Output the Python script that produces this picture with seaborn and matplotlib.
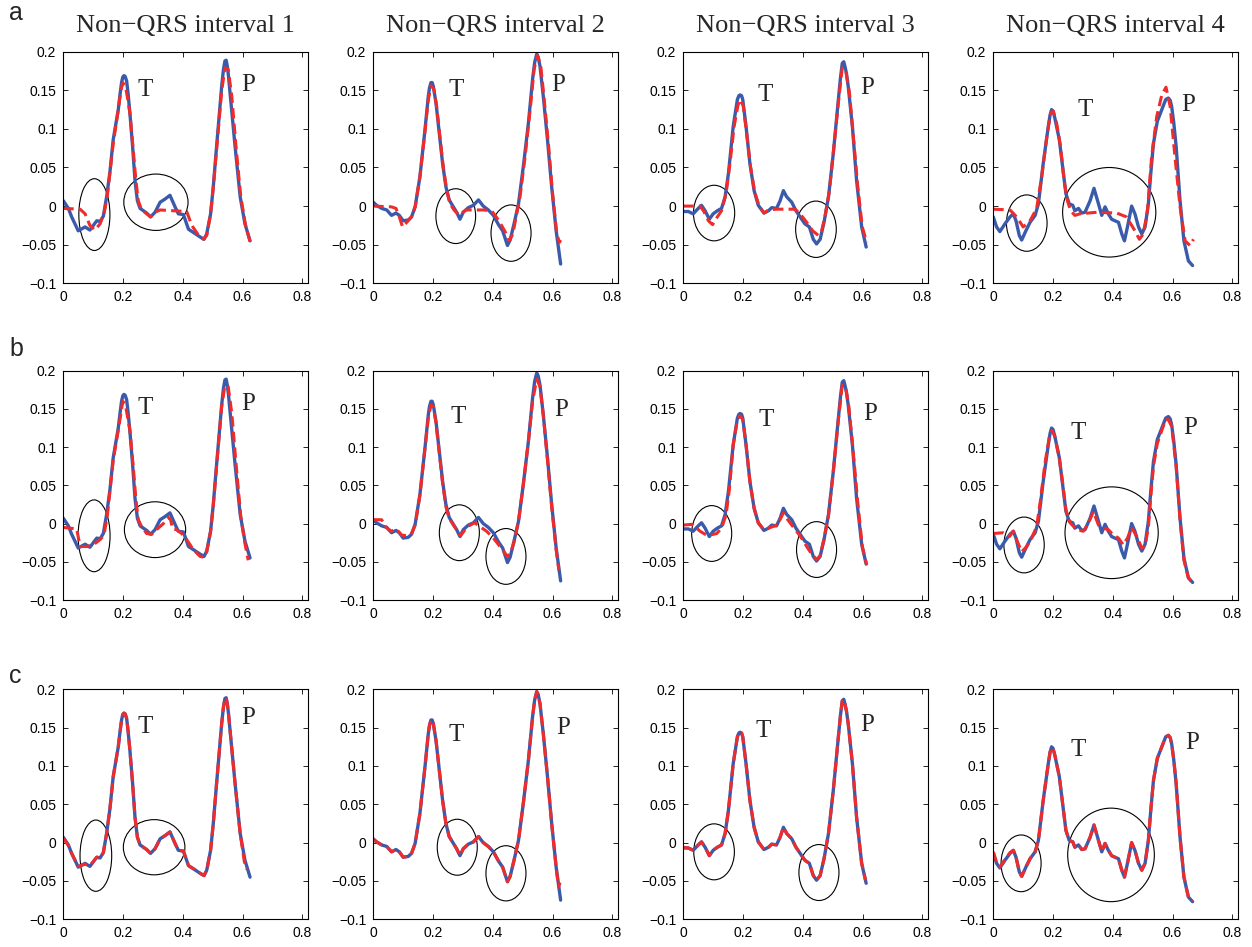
import numpy as np
import matplotlib
matplotlib.use("Agg")
import matplotlib.pyplot as plt
import seaborn as sns
from matplotlib.patches import Ellipse
from matplotlib.ticker import FixedLocator, FixedFormatter

# ---------------- data ----------------
titles = ["Non\u2212QRS interval 1", "Non\u2212QRS interval 2",
          "Non\u2212QRS interval 3", "Non\u2212QRS interval 4"]
row_labels = ["a", "b", "c"]
xtick_vals = [0, 0.2, 0.4, 0.6, 0.8]
xtick_text = ["0", "0.2", "0.4", "0.6", "0.8"]
ytick_vals = [-0.1, -0.05, 0, 0.05, 0.1, 0.15, 0.2]
ytick_text = ["\u22120.1", "\u22120.05", "0", "0.05", "0.1", "0.15", "0.2"]

# original signal (blue), one per interval
b1_x = [0.000, 0.017, 0.028, 0.050, 0.073, 0.089, 0.112, 0.123, 0.134, 0.145, 0.156, 0.167, 0.184, 0.190, 0.195,
        0.199, 0.203, 0.207, 0.212, 0.217, 0.223, 0.232, 0.240, 0.248, 0.257, 0.279, 0.292, 0.307, 0.324, 0.340,
        0.357, 0.374, 0.385, 0.402, 0.419, 0.435, 0.458, 0.471, 0.480, 0.493, 0.502, 0.513, 0.530, 0.536, 0.541,
        0.545, 0.549, 0.553, 0.558, 0.575, 0.592, 0.608, 0.625]
b1_y = [0.007, -0.003, -0.014, -0.032, -0.027, -0.031, -0.019, -0.020, -0.013, 0.012, 0.044, 0.086, 0.125, 0.145, 0.160,
        0.167, 0.169, 0.168, 0.162, 0.145, 0.120, 0.077, 0.033, 0.007, -0.003, -0.009, -0.014, -0.008, 0.005, 0.009,
        0.014, -0.001, -0.010, -0.011, -0.030, -0.034, -0.040, -0.043, -0.036, -0.010, 0.025, 0.077, 0.155, 0.177, 0.188,
        0.189, 0.181, 0.168, 0.147, 0.077, 0.012, -0.023, -0.045]

b2_x = [0.000, 0.011, 0.028, 0.045, 0.061, 0.076, 0.087, 0.100, 0.117, 0.128, 0.140, 0.156, 0.173, 0.184, 0.188,
        0.193, 0.197, 0.201, 0.210, 0.221, 0.232, 0.243, 0.254, 0.268, 0.279, 0.290, 0.301, 0.318, 0.335, 0.352,
        0.368, 0.385, 0.402, 0.419, 0.433, 0.449, 0.458, 0.471, 0.486, 0.502, 0.519, 0.533, 0.540, 0.547, 0.552,
        0.558, 0.569, 0.583, 0.597, 0.612, 0.627]
b2_y = [0.005, 0.001, -0.003, -0.005, -0.012, -0.009, -0.012, -0.019, -0.018, -0.014, -0.001, 0.038, 0.099, 0.142, 0.153,
        0.160, 0.160, 0.155, 0.133, 0.094, 0.055, 0.025, 0.008, -0.001, -0.008, -0.017, -0.008, -0.002, 0.001, 0.008,
        0.000, -0.005, -0.012, -0.024, -0.032, -0.051, -0.044, -0.023, 0.003, 0.051, 0.107, 0.164, 0.186, 0.197, 0.193,
        0.181, 0.142, 0.086, 0.025, -0.032, -0.075]

b3_x = [0.000, 0.017, 0.033, 0.050, 0.061, 0.073, 0.087, 0.100, 0.114, 0.128, 0.140, 0.151, 0.167, 0.181, 0.186,
        0.190, 0.195, 0.199, 0.210, 0.223, 0.237, 0.251, 0.270, 0.285, 0.296, 0.312, 0.324, 0.335, 0.346, 0.363,
        0.377, 0.391, 0.407, 0.422, 0.435, 0.446, 0.458, 0.471, 0.486, 0.502, 0.519, 0.526, 0.532, 0.537, 0.541,
        0.546, 0.552, 0.566, 0.580, 0.597, 0.612]
b3_y = [-0.007, -0.007, -0.010, -0.003, 0.001, -0.006, -0.017, -0.010, -0.006, -0.003, 0.012, 0.042, 0.103, 0.138, 0.143,
        0.144, 0.143, 0.138, 0.103, 0.055, 0.020, 0.001, -0.009, -0.006, -0.002, -0.003, 0.007, 0.020, 0.012, 0.005,
        -0.006, -0.014, -0.023, -0.027, -0.043, -0.049, -0.043, -0.021, 0.012, 0.068, 0.138, 0.166, 0.185, 0.187, 0.181,
        0.172, 0.155, 0.103, 0.033, -0.027, -0.053]

b4_x = [0.000, 0.011, 0.022, 0.039, 0.056, 0.067, 0.076, 0.087, 0.095, 0.109, 0.123, 0.140, 0.151, 0.167, 0.184,
        0.190, 0.195, 0.200, 0.206, 0.221, 0.232, 0.243, 0.254, 0.266, 0.273, 0.285, 0.296, 0.307, 0.324, 0.337,
        0.352, 0.363, 0.374, 0.385, 0.396, 0.407, 0.419, 0.430, 0.439, 0.449, 0.463, 0.474, 0.486, 0.497, 0.508,
        0.519, 0.527, 0.536, 0.549, 0.564, 0.577, 0.586, 0.592, 0.597, 0.604, 0.612, 0.625, 0.638, 0.653, 0.667]
b4_y = [-0.014, -0.027, -0.033, -0.023, -0.014, -0.010, -0.019, -0.038, -0.044, -0.032, -0.021, -0.012, 0.003, 0.055, 0.103,
        0.118, 0.125, 0.123, 0.114, 0.086, 0.051, 0.016, 0.003, 0.001, -0.006, -0.003, -0.009, -0.008, 0.007, 0.023,
        0.003, -0.012, -0.001, -0.010, -0.017, -0.019, -0.021, -0.036, -0.045, -0.027, 0.000, -0.010, -0.027, -0.036, -0.027,
        0.003, 0.042, 0.081, 0.110, 0.125, 0.138, 0.140, 0.137, 0.129, 0.108, 0.077, 0.007, -0.045, -0.071, -0.077]

# reconstructions (red dashed), row a
ra1_x = [0.000, 0.056, 0.073, 0.089, 0.106, 0.123, 0.136, 0.147, 0.167, 0.184, 0.192, 0.199, 0.208, 0.215, 0.223,
         0.234, 0.243, 0.251, 0.262, 0.279, 0.292, 0.307, 0.324, 0.368, 0.413, 0.430, 0.453, 0.469, 0.480, 0.493,
         0.502, 0.513, 0.530, 0.541, 0.552, 0.564, 0.578, 0.594, 0.610, 0.625]
ra1_y = [-0.003, -0.004, -0.010, -0.025, -0.031, -0.023, -0.010, 0.012, 0.081, 0.125, 0.148, 0.160, 0.155, 0.140, 0.120,
         0.073, 0.033, 0.007, -0.005, -0.010, -0.014, -0.008, -0.005, -0.006, -0.007, -0.025, -0.038, -0.043, -0.038, -0.010,
         0.025, 0.073, 0.149, 0.179, 0.177, 0.142, 0.077, 0.012, -0.025, -0.046]

ra2_x = [0.000, 0.061, 0.076, 0.087, 0.098, 0.112, 0.128, 0.140, 0.156, 0.173, 0.184, 0.194, 0.203, 0.212, 0.223,
         0.234, 0.246, 0.257, 0.270, 0.285, 0.296, 0.310, 0.335, 0.368, 0.396, 0.419, 0.441, 0.455, 0.467, 0.478,
         0.491, 0.508, 0.525, 0.538, 0.549, 0.560, 0.571, 0.586, 0.600, 0.614, 0.623, 0.627]
ra2_y = [0.000, -0.001, -0.003, -0.014, -0.027, -0.021, -0.014, -0.001, 0.038, 0.097, 0.138, 0.156, 0.151, 0.129, 0.090,
         0.051, 0.020, 0.003, -0.005, -0.011, -0.009, -0.005, -0.005, -0.005, -0.006, -0.018, -0.033, -0.045, -0.036, -0.014,
         0.012, 0.064, 0.125, 0.177, 0.195, 0.183, 0.142, 0.081, 0.016, -0.036, -0.047, -0.044]

ra3_x = [0.000, 0.056, 0.069, 0.084, 0.098, 0.114, 0.128, 0.143, 0.156, 0.170, 0.183, 0.192, 0.201, 0.212, 0.225,
         0.239, 0.254, 0.270, 0.285, 0.312, 0.346, 0.374, 0.391, 0.413, 0.433, 0.452, 0.463, 0.474, 0.489, 0.504,
         0.520, 0.532, 0.543, 0.556, 0.569, 0.584, 0.599, 0.614]
ra3_y = [0.000, 0.000, -0.007, -0.019, -0.024, -0.014, -0.006, 0.016, 0.055, 0.103, 0.131, 0.138, 0.129, 0.094, 0.051,
         0.018, 0.000, -0.009, -0.005, -0.004, -0.004, -0.004, -0.010, -0.021, -0.032, -0.038, -0.032, -0.014, 0.020, 0.077,
         0.138, 0.179, 0.177, 0.147, 0.090, 0.025, -0.027, -0.047]

ra4_x = [0.000, 0.056, 0.078, 0.100, 0.123, 0.145, 0.162, 0.179, 0.192, 0.201, 0.212, 0.225, 0.237, 0.248, 0.259,
         0.273, 0.290, 0.346, 0.413, 0.446, 0.474, 0.489, 0.502, 0.516, 0.530, 0.547, 0.564, 0.578, 0.592, 0.608,
         0.625, 0.642, 0.658, 0.670]
ra4_y = [-0.004, -0.005, -0.014, -0.027, -0.019, -0.003, 0.038, 0.090, 0.121, 0.123, 0.107, 0.077, 0.033, 0.007, -0.006,
         -0.012, -0.010, -0.008, -0.009, -0.014, -0.032, -0.043, -0.036, -0.006, 0.064, 0.116, 0.144, 0.154, 0.129, 0.064,
         -0.001, -0.045, -0.051, -0.043]

# row b
rb1_x = [0.000, 0.045, 0.056, 0.078, 0.100, 0.123, 0.136, 0.147, 0.167, 0.184, 0.199, 0.208, 0.223, 0.234, 0.243,
         0.251, 0.262, 0.279, 0.296, 0.312, 0.335, 0.352, 0.359, 0.366, 0.379, 0.396, 0.413, 0.435, 0.458, 0.471,
         0.480, 0.493, 0.502, 0.513, 0.530, 0.541, 0.552, 0.564, 0.578, 0.594, 0.608, 0.619]
rb1_y = [-0.005, -0.007, -0.030, -0.030, -0.028, -0.021, -0.015, 0.009, 0.083, 0.122, 0.160, 0.155, 0.122, 0.075, 0.031,
         0.005, -0.004, -0.013, -0.014, -0.008, 0.000, 0.008, 0.005, -0.007, -0.008, -0.013, -0.021, -0.034, -0.043, -0.044,
         -0.037, -0.010, 0.024, 0.075, 0.153, 0.181, 0.179, 0.144, 0.079, 0.009, -0.026, -0.048]

rb2_x = [0.000, 0.028, 0.045, 0.061, 0.076, 0.095, 0.112, 0.128, 0.140, 0.156, 0.173, 0.184, 0.193, 0.201, 0.210,
         0.221, 0.232, 0.243, 0.254, 0.268, 0.279, 0.292, 0.307, 0.324, 0.340, 0.357, 0.379, 0.402, 0.424, 0.449,
         0.460, 0.471, 0.486, 0.502, 0.519, 0.533, 0.547, 0.558, 0.569, 0.583, 0.597, 0.612, 0.621]
rb2_y = [0.005, 0.005, -0.006, -0.010, -0.007, -0.015, -0.016, -0.013, -0.002, 0.037, 0.099, 0.138, 0.155, 0.153, 0.131,
         0.092, 0.053, 0.022, 0.007, -0.002, -0.008, -0.016, -0.008, -0.002, 0.001, -0.004, -0.010, -0.019, -0.030, -0.043,
         -0.038, -0.024, 0.003, 0.051, 0.107, 0.160, 0.189, 0.179, 0.142, 0.083, 0.022, -0.034, -0.061]

rb3_x = [0.000, 0.028, 0.042, 0.056, 0.073, 0.089, 0.112, 0.128, 0.143, 0.154, 0.167, 0.181, 0.190, 0.199, 0.210,
         0.223, 0.237, 0.251, 0.270, 0.285, 0.299, 0.315, 0.326, 0.335, 0.346, 0.363, 0.379, 0.396, 0.413, 0.430,
         0.446, 0.458, 0.471, 0.486, 0.502, 0.519, 0.532, 0.543, 0.554, 0.567, 0.583, 0.599, 0.614]
rb3_y = [-0.002, -0.001, -0.005, -0.010, -0.014, -0.015, -0.013, -0.006, 0.011, 0.044, 0.103, 0.136, 0.141, 0.136, 0.103,
         0.055, 0.020, 0.001, -0.008, -0.006, -0.004, -0.002, 0.007, 0.014, 0.007, -0.002, -0.010, -0.019, -0.030, -0.040,
         -0.047, -0.042, -0.020, 0.011, 0.068, 0.136, 0.181, 0.179, 0.153, 0.101, 0.031, -0.030, -0.054]

rb4_x = [0.000, 0.033, 0.054, 0.067, 0.078, 0.095, 0.112, 0.128, 0.145, 0.158, 0.173, 0.188, 0.196, 0.206, 0.221,
         0.232, 0.243, 0.257, 0.279, 0.301, 0.318, 0.335, 0.352, 0.368, 0.385, 0.402, 0.419, 0.435, 0.449, 0.463,
         0.480, 0.497, 0.508, 0.519, 0.527, 0.536, 0.549, 0.564, 0.577, 0.586, 0.597, 0.612, 0.625, 0.638, 0.653, 0.667]
rb4_y = [-0.013, -0.012, -0.017, -0.010, -0.021, -0.037, -0.030, -0.019, -0.004, 0.031, 0.079, 0.114, 0.122, 0.114, 0.085,
         0.053, 0.018, 0.001, -0.008, -0.010, 0.000, 0.016, -0.002, -0.006, -0.008, -0.015, -0.019, -0.028, -0.019, -0.005,
         -0.017, -0.032, -0.030, -0.004, 0.035, 0.075, 0.105, 0.122, 0.136, 0.136, 0.127, 0.075, 0.005, -0.048, -0.071, -0.078]

# row c (reconstruction almost on top of the original)
rc1_x = [0.000, 0.017, 0.028, 0.050, 0.073, 0.089, 0.112, 0.123, 0.134, 0.145, 0.156, 0.167, 0.184, 0.190, 0.195,
         0.199, 0.203, 0.207, 0.212, 0.217, 0.223, 0.232, 0.240, 0.248, 0.257, 0.279, 0.292, 0.307, 0.324, 0.340,
         0.357, 0.374, 0.385, 0.402, 0.419, 0.435, 0.458, 0.471, 0.480, 0.493, 0.502, 0.513, 0.530, 0.536, 0.541,
         0.545, 0.549, 0.553, 0.558, 0.575, 0.592, 0.606, 0.615]
rc1_y = [0.006, -0.004, -0.014, -0.031, -0.028, -0.030, -0.019, -0.020, -0.013, 0.012, 0.044, 0.086, 0.125, 0.145, 0.160,
         0.167, 0.169, 0.168, 0.162, 0.145, 0.120, 0.077, 0.033, 0.007, -0.003, -0.009, -0.014, -0.008, 0.005, 0.009,
         0.014, -0.001, -0.010, -0.011, -0.030, -0.034, -0.040, -0.043, -0.036, -0.010, 0.025, 0.077, 0.155, 0.177, 0.188,
         0.189, 0.181, 0.168, 0.147, 0.077, 0.012, -0.025, -0.035]

rc2_x = [0.000, 0.011, 0.028, 0.045, 0.061, 0.076, 0.087, 0.100, 0.117, 0.128, 0.140, 0.156, 0.173, 0.184, 0.188,
         0.193, 0.197, 0.201, 0.210, 0.221, 0.232, 0.243, 0.254, 0.268, 0.279, 0.290, 0.301, 0.318, 0.335, 0.352,
         0.368, 0.385, 0.402, 0.419, 0.433, 0.449, 0.458, 0.471, 0.486, 0.502, 0.519, 0.533, 0.540, 0.547, 0.552,
         0.558, 0.569, 0.583, 0.597, 0.612, 0.620, 0.625]
rc2_y = [0.004, 0.001, -0.003, -0.005, -0.012, -0.009, -0.012, -0.019, -0.018, -0.014, -0.001, 0.038, 0.099, 0.142, 0.153,
         0.160, 0.160, 0.155, 0.133, 0.094, 0.055, 0.025, 0.008, -0.001, -0.008, -0.017, -0.008, -0.002, 0.001, 0.008,
         0.000, -0.005, -0.012, -0.024, -0.032, -0.051, -0.044, -0.023, 0.003, 0.051, 0.107, 0.164, 0.186, 0.197, 0.193,
         0.181, 0.142, 0.086, 0.025, -0.032, -0.058, -0.052]

rc3_x = [0.000, 0.017, 0.033, 0.050, 0.061, 0.073, 0.087, 0.100, 0.114, 0.128, 0.140, 0.151, 0.167, 0.181, 0.186,
         0.190, 0.195, 0.199, 0.210, 0.223, 0.237, 0.251, 0.270, 0.285, 0.296, 0.312, 0.324, 0.335, 0.346, 0.363,
         0.377, 0.391, 0.407, 0.422, 0.435, 0.446, 0.458, 0.471, 0.486, 0.502, 0.519, 0.526, 0.532, 0.537, 0.541,
         0.546, 0.552, 0.566, 0.580, 0.597, 0.610]
rc3_y = [-0.006, -0.007, -0.010, -0.003, 0.001, -0.006, -0.017, -0.010, -0.006, -0.003, 0.012, 0.042, 0.103, 0.138, 0.143,
         0.144, 0.143, 0.138, 0.103, 0.055, 0.020, 0.001, -0.009, -0.006, -0.002, -0.003, 0.007, 0.020, 0.012, 0.005,
         -0.006, -0.014, -0.023, -0.027, -0.043, -0.049, -0.043, -0.021, 0.012, 0.068, 0.138, 0.166, 0.185, 0.187, 0.181,
         0.172, 0.155, 0.103, 0.033, -0.027, -0.049]

rc4_x = [0.000, 0.011, 0.022, 0.039, 0.056, 0.067, 0.076, 0.087, 0.095, 0.109, 0.123, 0.140, 0.151, 0.167, 0.184,
         0.190, 0.195, 0.200, 0.206, 0.221, 0.232, 0.243, 0.254, 0.266, 0.273, 0.285, 0.296, 0.307, 0.324, 0.337,
         0.352, 0.363, 0.374, 0.385, 0.396, 0.407, 0.419, 0.430, 0.439, 0.449, 0.463, 0.474, 0.486, 0.497, 0.508,
         0.519, 0.527, 0.536, 0.549, 0.564, 0.577, 0.586, 0.592, 0.597, 0.604, 0.612, 0.625, 0.638, 0.653, 0.667]
rc4_y = [-0.012, -0.026, -0.032, -0.022, -0.013, -0.010, -0.019, -0.038, -0.044, -0.032, -0.021, -0.012, 0.003, 0.055, 0.103,
         0.118, 0.124, 0.123, 0.114, 0.086, 0.051, 0.016, 0.003, 0.001, -0.006, -0.003, -0.009, -0.008, 0.007, 0.023,
         0.003, -0.012, -0.001, -0.010, -0.017, -0.019, -0.021, -0.036, -0.045, -0.027, 0.000, -0.010, -0.027, -0.036, -0.027,
         0.003, 0.042, 0.081, 0.110, 0.125, 0.138, 0.140, 0.137, 0.129, 0.108, 0.077, 0.007, -0.045, -0.071, -0.077]

blue_x = [b1_x, b2_x, b3_x, b4_x]
blue_y = [b1_y, b2_y, b3_y, b4_y]
red_x = [[ra1_x, ra2_x, ra3_x, ra4_x], [rb1_x, rb2_x, rb3_x, rb4_x], [rc1_x, rc2_x, rc3_x, rc4_x]]
red_y = [[ra1_y, ra2_y, ra3_y, ra4_y], [rb1_y, rb2_y, rb3_y, rb4_y], [rc1_y, rc2_y, rc3_y, rc4_y]]

# ellipses: (center x, center y, width, height) in data units
ellipses = [
    [[(0.104, -0.011, 0.104, 0.093), (0.310, 0.005, 0.215, 0.073)],
     [(0.276, -0.013, 0.133, 0.071), (0.461, -0.035, 0.134, 0.073)],
     [(0.103, -0.009, 0.138, 0.072), (0.444, -0.030, 0.136, 0.073)],
     [(0.112, -0.022, 0.136, 0.073), (0.388, -0.008, 0.312, 0.116)]],
    [[(0.103, -0.016, 0.107, 0.094), (0.307, -0.008, 0.205, 0.073)],
     [(0.288, -0.012, 0.134, 0.073), (0.444, -0.043, 0.134, 0.073)],
     [(0.095, -0.013, 0.134, 0.073), (0.446, -0.034, 0.134, 0.073)],
     [(0.103, -0.028, 0.135, 0.073), (0.396, -0.012, 0.312, 0.120)]],
    [[(0.109, -0.017, 0.106, 0.093), (0.304, -0.006, 0.206, 0.072)],
     [(0.281, -0.006, 0.134, 0.073), (0.444, -0.040, 0.134, 0.072)],
     [(0.103, -0.012, 0.136, 0.073), (0.454, -0.039, 0.134, 0.073)],
     [(0.093, -0.027, 0.134, 0.074), (0.394, -0.016, 0.290, 0.122)]],
]

# wave labels: (T x, T y, P x, P y)
wave_pos = [
    [(0.273, 0.151, 0.619, 0.157), (0.279, 0.151, 0.619, 0.157), (0.273, 0.144, 0.614, 0.153), (0.307, 0.125, 0.653, 0.131)],
    [(0.273, 0.151, 0.619, 0.157), (0.285, 0.140, 0.630, 0.149), (0.279, 0.136, 0.625, 0.144), (0.285, 0.118, 0.658, 0.125)],
    [(0.273, 0.151, 0.619, 0.162), (0.279, 0.140, 0.636, 0.149), (0.268, 0.145, 0.614, 0.153), (0.285, 0.121, 0.664, 0.130)],
]

# ---------------- figure ----------------
sns.set_theme(style="ticks")
plt.rcParams['font.family'] = ['Liberation Sans', 'DejaVu Sans']

W, H = 1252, 947
fig = plt.figure(figsize=(W / 100, H / 100), dpi=100)
fig.patch.set_facecolor("white")

col_left = [63.3, 373.3, 683.3, 993.3]
ax_w = 245.0
row_top = [51.7, 370.7, 689.3]
row_bot = [283.3, 600.0, 919.3]
label_base = [20, 356, 683]

BLUE = "#3a5aab"
RED = "#ef2b2b"
SERIF = ['Liberation Serif', 'DejaVu Serif']

for r in range(3):
    fig.text(9 / W, 1 - label_base[r] / H, row_labels[r], fontsize=18, va='baseline', ha='left',
             family=['Liberation Sans', 'DejaVu Sans'])
    for c in range(4):
        ax = fig.add_axes([col_left[c] / W, 1 - row_bot[r] / H, ax_w / W, (row_bot[r] - row_top[r]) / H])
        ax.set_facecolor("white")
        sns.lineplot(x=np.array(blue_x[c]), y=np.array(blue_y[c]), ax=ax, color=BLUE, linewidth=2.4,
                     estimator=None, sort=False, errorbar=None,
                     solid_joinstyle='round', solid_capstyle='round')
        sns.lineplot(x=np.array(red_x[r][c]), y=np.array(red_y[r][c]), ax=ax, color=RED, linewidth=2.2,
                     linestyle=(0, (3.4, 1.7)), estimator=None, sort=False, errorbar=None,
                     dash_joinstyle='round')
        for (ex, ey, ew, eh) in ellipses[r][c]:
            ax.add_patch(Ellipse((ex, ey), ew, eh, fill=False, edgecolor='black', linewidth=0.8))
        tx, ty, px, py = wave_pos[r][c]
        ax.text(tx, ty, "T", fontsize=18, ha='center', va='center', family=SERIF)
        ax.text(px, py, "P", fontsize=18, ha='center', va='center', family=SERIF)

        ax.set_xlim(0, 0.82)
        ax.set_ylim(-0.1, 0.2)
        ax.xaxis.set_major_locator(FixedLocator(xtick_vals))
        ax.xaxis.set_major_formatter(FixedFormatter(xtick_text))
        ax.yaxis.set_major_locator(FixedLocator(ytick_vals))
        ax.yaxis.set_major_formatter(FixedFormatter(ytick_text))
        ax.tick_params(direction='in', top=True, right=True, length=3.5, width=0.6,
                       labelsize=10, pad=5, colors='black')
        ax.set_xlabel("")
        ax.set_ylabel("")
        for s in ax.spines.values():
            s.set_visible(True)
            s.set_color('black')
            s.set_linewidth(0.8)
        if r == 0:
            ax.set_title(titles[c], fontsize=19, pad=14, family=SERIF)

fig.savefig("out.png", dpi=100, facecolor="white")
